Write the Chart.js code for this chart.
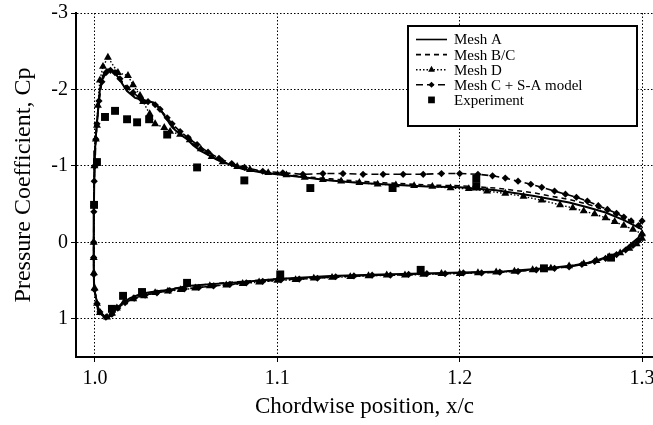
<!DOCTYPE html>
<html><head><meta charset="utf-8">
<script src="https://cdn.jsdelivr.net/npm/chart.js@4.4.1/dist/chart.umd.min.js"></script>
<style>html,body{margin:0;padding:0;background:#fff}canvas{display:block}</style>
</head><body>
<canvas id="c" width="653" height="425"></canvas>
<script>
// ---- tick labels / axes ----
const xTicks = [1.0, 1.1, 1.2, 1.3];
const yTicks = [-3, -2, -1, 0, 1];
const xTitle = 'Chordwise position, x/c';
const yTitle = 'Pressure Coefficient, Cp';
const seriesLabels = ['Mesh A', 'Mesh B/C', 'Mesh D', 'Mesh C + S-A model', 'Experiment'];

// ---- series values: [x/c, Cp], leading edge -> trailing edge ----
const meshA_upper = [[0.9993,0.00],[0.9994,-0.40],[0.9996,-0.80],[1.0000,-1.20],[1.0008,-1.50],[1.0016,-1.70],[1.0027,-2.00],[1.0044,-2.18],[1.0066,-2.26],[1.0085,-2.26],[1.0110,-2.22],[1.0137,-2.12],[1.0176,-1.98],[1.0220,-1.89],[1.0286,-1.85],[1.0320,-1.83],[1.0350,-1.77],[1.0385,-1.64],[1.0425,-1.50],[1.0467,-1.41],[1.0505,-1.35],[1.0538,-1.27],[1.0577,-1.20],[1.0615,-1.15],[1.0670,-1.08],[1.0703,-1.05],[1.0758,-1.00],[1.0810,-0.96],[1.0923,-0.91],[1.1033,-0.88],[1.1143,-0.85],[1.1290,-0.81],[1.1440,-0.78],[1.1580,-0.76],[1.1820,-0.73],[1.2000,-0.72],[1.2200,-0.68],[1.2400,-0.61],[1.2600,-0.52],[1.2700,-0.46],[1.2800,-0.39],[1.2900,-0.29],[1.3000,-0.17]];
const meshA_lower = [[0.9993,0.00],[0.9993,0.30],[0.9995,0.60],[1.0008,0.75],[1.0016,0.88],[1.0038,0.95],[1.0066,0.99],[1.0093,0.95],[1.0110,0.88],[1.0148,0.80],[1.0192,0.73],[1.0258,0.67],[1.0340,0.64],[1.0412,0.62],[1.0505,0.57],[1.0615,0.55],[1.0758,0.53],[1.1000,0.48],[1.1290,0.44],[1.1570,0.42],[1.1900,0.40],[1.2240,0.38],[1.2520,0.33],[1.2630,0.30],[1.2700,0.27],[1.2770,0.22],[1.2850,0.16],[1.2890,0.12],[1.2940,0.02],[1.2980,-0.06],[1.3000,-0.15]];

const meshBC_upper = [[0.9993,0.00],[0.9994,-0.40],[0.9996,-0.80],[1.0000,-1.18],[1.0008,-1.48],[1.0016,-1.68],[1.0027,-1.98],[1.0044,-2.16],[1.0066,-2.24],[1.0085,-2.25],[1.0110,-2.21],[1.0137,-2.13],[1.0176,-2.00],[1.0220,-1.90],[1.0286,-1.85],[1.0320,-1.82],[1.0350,-1.76],[1.0385,-1.65],[1.0425,-1.52],[1.0467,-1.43],[1.0505,-1.36],[1.0538,-1.28],[1.0577,-1.21],[1.0615,-1.15],[1.0670,-1.09],[1.0703,-1.05],[1.0758,-1.01],[1.0810,-0.97],[1.0923,-0.92],[1.1033,-0.89],[1.1143,-0.86],[1.1290,-0.83],[1.1440,-0.80],[1.1580,-0.78],[1.1820,-0.75],[1.2000,-0.74],[1.2200,-0.71],[1.2400,-0.65],[1.2600,-0.56],[1.2700,-0.50],[1.2800,-0.42],[1.2900,-0.32],[1.3000,-0.20]];
const meshBC_lower = [[0.9993,0.00],[0.9993,0.30],[0.9995,0.60],[1.0008,0.76],[1.0016,0.89],[1.0038,0.96],[1.0066,0.99],[1.0093,0.96],[1.0110,0.90],[1.0148,0.81],[1.0192,0.74],[1.0258,0.68],[1.0340,0.64],[1.0412,0.61],[1.0505,0.58],[1.0615,0.55],[1.0758,0.52],[1.1000,0.48],[1.1290,0.45],[1.1570,0.43],[1.1900,0.41],[1.2240,0.38],[1.2520,0.34],[1.2630,0.31],[1.2700,0.28],[1.2770,0.23],[1.2850,0.17],[1.2890,0.12],[1.2940,0.03],[1.2980,-0.05],[1.3000,-0.14]];

const meshD_upper = [[0.9993,0.00],[0.9994,-0.50],[0.9997,-1.00],[1.0005,-1.35],[1.0011,-1.53],[1.0016,-1.79],[1.0027,-2.12],[1.0044,-2.30],[1.0071,-2.42],[1.0126,-2.22],[1.0181,-2.18],[1.0209,-2.06],[1.0247,-1.92],[1.0264,-1.84],[1.0300,-1.68],[1.0330,-1.55],[1.0380,-1.50],[1.0412,-1.45],[1.0467,-1.41],[1.0520,-1.34],[1.0580,-1.22],[1.0640,-1.12],[1.0700,-1.05],[1.0780,-0.99],[1.0850,-0.95],[1.0950,-0.91],[1.1050,-0.88],[1.1150,-0.85],[1.1250,-0.82],[1.1350,-0.80],[1.1450,-0.78],[1.1550,-0.76],[1.1650,-0.75],[1.1750,-0.74],[1.1850,-0.73],[1.1950,-0.71],[1.2050,-0.70],[1.2150,-0.67],[1.2250,-0.64],[1.2350,-0.60],[1.2450,-0.55],[1.2550,-0.49],[1.2620,-0.45],[1.2680,-0.41],[1.2740,-0.37],[1.2800,-0.32],[1.2850,-0.27],[1.2900,-0.22],[1.2950,-0.17],[1.3000,-0.11]];
const meshD_lower = [[0.9993,0.00],[0.9993,0.20],[0.9994,0.40],[0.9998,0.60],[1.0011,0.80],[1.0027,0.92],[1.0066,0.98],[1.0093,0.93],[1.0120,0.86],[1.0160,0.78],[1.0210,0.74],[1.0270,0.70],[1.0330,0.66],[1.0400,0.64],[1.0470,0.62],[1.0550,0.60],[1.0630,0.57],[1.0720,0.56],[1.0810,0.54],[1.0900,0.52],[1.1000,0.50],[1.1100,0.49],[1.1200,0.47],[1.1300,0.46],[1.1400,0.45],[1.1500,0.44],[1.1600,0.43],[1.1700,0.43],[1.1800,0.42],[1.1900,0.41],[1.2000,0.41],[1.2100,0.40],[1.2200,0.39],[1.2300,0.38],[1.2400,0.36],[1.2500,0.34],[1.2600,0.31],[1.2680,0.28],[1.2750,0.24],[1.2820,0.19],[1.2880,0.14],[1.2930,0.08],[1.2970,0.02],[1.3000,-0.05]];

const meshSA_upper = [[0.9993,0.00],[0.9994,-0.40],[0.9996,-0.80],[1.0000,-1.00],[1.0005,-1.35],[1.0011,-1.55],[1.0022,-1.85],[1.0038,-2.10],[1.0060,-2.22],[1.0085,-2.25],[1.0110,-2.22],[1.0137,-2.14],[1.0176,-2.02],[1.0209,-1.96],[1.0250,-1.88],[1.0291,-1.84],[1.0330,-1.80],[1.0357,-1.74],[1.0396,-1.63],[1.0423,-1.55],[1.0467,-1.45],[1.0510,-1.37],[1.0560,-1.28],[1.0620,-1.18],[1.0680,-1.10],[1.0750,-1.03],[1.0820,-0.98],[1.0920,-0.93],[1.1030,-0.91],[1.1140,-0.89],[1.1250,-0.90],[1.1360,-0.90],[1.1470,-0.89],[1.1580,-0.89],[1.1690,-0.89],[1.1800,-0.89],[1.1900,-0.90],[1.2000,-0.90],[1.2100,-0.89],[1.2180,-0.87],[1.2250,-0.84],[1.2320,-0.80],[1.2390,-0.76],[1.2450,-0.72],[1.2520,-0.67],[1.2580,-0.63],[1.2640,-0.59],[1.2700,-0.54],[1.2760,-0.48],[1.2810,-0.43],[1.2860,-0.38],[1.2900,-0.33],[1.2940,-0.28],[1.2980,-0.22],[1.3000,-0.28]];
const meshSA_lower = [[0.9993,0.00],[0.9993,0.20],[0.9994,0.42],[0.9998,0.62],[1.0011,0.80],[1.0027,0.91],[1.0060,0.98],[1.0093,0.94],[1.0125,0.86],[1.0165,0.79],[1.0215,0.73],[1.0275,0.69],[1.0340,0.66],[1.0410,0.63],[1.0490,0.61],[1.0570,0.59],[1.0650,0.57],[1.0740,0.55],[1.0830,0.53],[1.0920,0.51],[1.1020,0.49],[1.1120,0.48],[1.1220,0.47],[1.1320,0.45],[1.1420,0.44],[1.1520,0.43],[1.1620,0.43],[1.1720,0.42],[1.1820,0.41],[1.1920,0.41],[1.2020,0.40],[1.2120,0.40],[1.2220,0.39],[1.2320,0.38],[1.2420,0.36],[1.2520,0.34],[1.2600,0.32],[1.2670,0.29],[1.2740,0.25],[1.2800,0.21],[1.2860,0.16],[1.2910,0.10],[1.2950,0.04],[1.2980,-0.02],[1.3000,-0.10]];

const experiment = [[0.9995,-0.49],[1.0011,-1.05],[1.0055,-1.64],[1.0110,-1.72],[1.0176,-1.61],[1.0231,-1.57],[1.0297,-1.61],[1.0396,-1.41],[1.0560,-0.98],[1.0819,-0.81],[1.1181,-0.71],[1.1632,-0.71],[1.2091,-0.83],[1.2091,-0.73],[1.0093,0.87],[1.0154,0.70],[1.0258,0.65],[1.0505,0.53],[1.1016,0.42],[1.1786,0.36],[1.2462,0.34],[1.2830,0.20]];

// ---- build closed loops: TE upper -> LE -> TE lower ----
function loop(upper, lower) {
  return upper.slice().reverse().concat(lower.slice(1)).map(p => ({x: p[0], y: p[1]}));
}
const pts = arr => arr.map(p => ({x: p[0], y: p[1]}));

const serif = '"Liberation Serif", "DejaVu Serif", serif';

function drawMarker(ctx, style, r, x, y) {
  ctx.beginPath();
  if (style === 'triangle') {
    ctx.moveTo(x, y - r);
    ctx.lineTo(x + r * 0.866, y + r * 0.5);
    ctx.lineTo(x - r * 0.866, y + r * 0.5);
    ctx.closePath();
  } else if (style === 'rectRot') {
    ctx.moveTo(x, y - r); ctx.lineTo(x + r, y); ctx.lineTo(x, y + r); ctx.lineTo(x - r, y); ctx.closePath();
  } else if (style === 'rect') {
    const s = r * Math.SQRT1_2;
    ctx.rect(x - s, y - s, 2 * s, 2 * s);
  }
  ctx.fill();
}

const boxLegend = {
  id: 'boxLegend',
  afterDraw(chart) {
    const ctx = chart.ctx;
    const x0 = 408, y0 = 26, w = 229, h = 100;
    ctx.save();
    ctx.fillStyle = '#fff';
    ctx.fillRect(x0, y0, w, h);
    ctx.strokeStyle = '#000';
    ctx.lineWidth = 2;
    ctx.strokeRect(x0, y0, w, h);
    ctx.font = '15px ' + serif;
    ctx.textBaseline = 'middle';
    ctx.textAlign = 'left';
    chart.data.datasets.forEach((ds, i) => {
      const y = y0 + 13.5 + i * 15.1;
      const lx1 = x0 + 8, lx2 = x0 + 39, mx = (lx1 + lx2) / 2;
      if (ds.showLine !== false) {
        ctx.beginPath();
        ctx.setLineDash(ds.borderDash || []);
        ctx.lineWidth = Math.min(ds.borderWidth, 1.6);
        ctx.strokeStyle = '#000';
        ctx.moveTo(lx1, y); ctx.lineTo(lx2, y);
        ctx.stroke();
        ctx.setLineDash([]);
      }
      if (ds.pointRadius > 0) {
        ctx.fillStyle = '#000';
        drawMarker(ctx, ds.pointStyle, ds.pointRadius * 0.85, mx, y);
      }
      ctx.fillStyle = '#000';
      ctx.fillText(ds.label, x0 + 46, y + 1);
    });
    ctx.restore();
  }
};

const common = {borderColor: '#000', backgroundColor: '#000', pointBorderWidth: 0, tension: 0, showLine: true, fill: false};

new Chart(document.getElementById('c'), {
  type: 'scatter',
  data: {
    datasets: [
      Object.assign({}, common, {label: seriesLabels[0], data: loop(meshA_upper, meshA_lower), borderWidth: 2, pointRadius: 0}),
      Object.assign({}, common, {label: seriesLabels[1], data: loop(meshBC_upper, meshBC_lower), borderWidth: 1.6, borderDash: [5, 4], pointRadius: 0}),
      Object.assign({}, common, {label: seriesLabels[2], data: loop(meshD_upper, meshD_lower), borderWidth: 1.4, borderDash: [1.5, 2], pointRadius: 4.6, pointStyle: 'triangle'}),
      Object.assign({}, common, {label: seriesLabels[3], data: loop(meshSA_upper, meshSA_lower), borderWidth: 1.6, borderDash: [7, 4], pointRadius: 3.6, pointStyle: 'rectRot'}),
      Object.assign({}, common, {label: seriesLabels[4], data: pts(experiment), showLine: false, borderWidth: 0, pointRadius: 5.6, pointStyle: 'rect'})
    ]
  },
  options: {
    responsive: false,
    animation: false,
    devicePixelRatio: 1,
    layout: {autoPadding: false, padding: {top: 13, left: 0, right: 0, bottom: 0}},
    plugins: {legend: {display: false}, tooltip: {enabled: false}},
    scales: {
      x: {
        type: 'linear', min: 0.9896, max: 1.306,
        afterBuildTicks: s => { s.ticks = xTicks.map(v => ({value: v})); },
        afterFit: s => { s.height = 68; s.paddingLeft = 0; s.paddingRight = 0; },
        ticks: {callback: v => Number(v).toFixed(1), color: '#000', font: {family: serif, size: 20}, padding: 5, maxRotation: 0, autoSkip: false},
        grid: {color: '#000', lineWidth: 1, drawTicks: true, tickLength: 5, tickColor: '#000', tickWidth: 1},
        border: {display: true, color: '#000', width: 2, dash: [1.5, 2]},
        title: {display: true, text: xTitle, color: '#000', font: {family: serif, size: 23}, padding: {top: 0, bottom: 4}}
      },
      y: {
        type: 'linear', min: -3, max: 1.5, reverse: true,
        afterBuildTicks: s => { s.ticks = yTicks.map(v => ({value: v})); },
        afterFit: s => { s.width = 76; s.paddingTop = 0; s.paddingBottom = 0; },
        ticks: {callback: v => String(v), color: '#000', font: {family: serif, size: 20}, padding: 3, autoSkip: false},
        grid: {color: '#000', lineWidth: 1, drawTicks: true, tickLength: 5, tickColor: '#000', tickWidth: 1},
        border: {display: true, color: '#000', width: 2, dash: [1.5, 2]},
        title: {display: true, text: yTitle, color: '#000', font: {family: serif, size: 24}, padding: {top: 9.5, bottom: 0}}
      }
    }
  },
  plugins: [boxLegend]
});
</script>
</body></html>
